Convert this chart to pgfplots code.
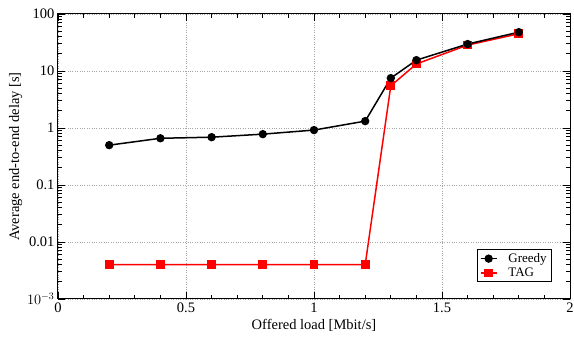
\documentclass[border=0pt]{standalone}
\usepackage{pgfplots}
\pgfplotsset{compat=1.18}
\usepackage{fontspec}
\setmainfont{Liberation Serif}
\begin{document}
\begin{tikzpicture}[x=1pt,y=1pt]
\path[use as bounding box] (-58,-40) rectangle (516,299);
\begin{axis}[
  at={(0,0)}, anchor=south west,
  scale only axis, width=512pt, height=285pt,
  xmin=0, xmax=2, ymin=0.001, ymax=100,
  ymode=log,
  xtick={0,0.5,1,1.5,2},
  xticklabels={0,0.5,1,1.5,2},
  minor x tick num=4,
  ytick={0.001,0.01,0.1,1,10,100},
  yticklabels={$10^{-3}$,0.01,0.1,1,10,100},
  tick align=inside,
  major tick length=7pt, minor tick length=4pt,
  every tick/.style={black, line width=0.8pt},
  axis line style={line width=1pt},
  grid=major,
  major grid style={gray!70, dotted, line width=0.7pt},
  /pgf/number format/assume math mode=true,
  tick label style={font=\fontsize{14.5}{16}\selectfont},
  label style={font=\fontsize{14.5}{16}\selectfont},
  xlabel={Offered load [Mbit/s]},
  ylabel={Average end-to-end delay [s]},
  ylabel style={yshift=-2pt},
  legend style={at={(0.965,0.06)}, anchor=south east, font=\fontsize{13}{14}\selectfont, draw=black, line width=0.8pt, row sep=0pt, inner sep=1.5pt, inner xsep=3pt},
  legend cell align=left,
  reverse legend,
  legend image code/.code={%
    \draw[#1] (0pt,0pt) -- (16pt,0pt);
    \draw[#1, mark repeat=2, mark phase=2] plot coordinates {(0pt,0pt) (8pt,0pt) (16pt,0pt)};
  },
]
\addplot[red, line width=1.5pt, mark=square*, mark size=3.6pt] coordinates {
 (0.2,0.004) (0.4,0.004) (0.6,0.004) (0.8,0.004) (1.0,0.004) (1.2,0.004) (1.3,5.5) (1.4,13.3) (1.6,28.5) (1.8,45)
};
\addlegendentry{\hspace{9pt}TAG}
\addplot[black, line width=1.5pt, mark=*, mark size=3.4pt] coordinates {
 (0.2,0.50) (0.4,0.66) (0.6,0.69) (0.8,0.78) (1.0,0.92) (1.2,1.32) (1.3,7.5) (1.4,15.5) (1.6,29.7) (1.8,48)
};
\addlegendentry{\hspace{9pt}Greedy}
\end{axis}
\end{tikzpicture}
\end{document}
